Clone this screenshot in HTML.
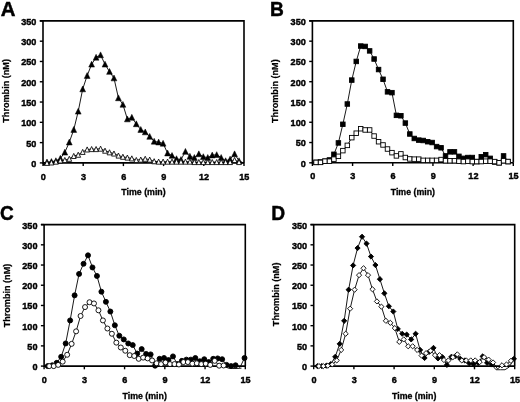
<!DOCTYPE html>
<html><head><meta charset="utf-8"><style>
html,body{margin:0;padding:0;background:#fff;}
svg{display:block;}
text{font-family:"Liberation Sans",sans-serif;font-weight:bold;font-size:9.1px;fill:#000;stroke:#000;stroke-width:0.4px;}
svg{will-change:transform;}
</style></head><body>
<svg width="520" height="402" viewBox="0 0 520 402">
<rect width="520" height="402" fill="#fff"/>
<path d="M39.80 20.90H244.00V162.90" fill="none" stroke="#000" stroke-width="1.6"/>
<path d="M43.00 20.90V162.90H244.00" fill="none" stroke="#000" stroke-width="1.6"/>
<path d="M39.80 162.90H43.00" stroke="#000" stroke-width="1.4"/>
<text transform="translate(36.40 166.80) scale(1 1.08)" text-anchor="end">0</text>
<path d="M39.80 142.61H43.00" stroke="#000" stroke-width="1.4"/>
<text transform="translate(36.40 146.51) scale(1 1.08)" text-anchor="end">50</text>
<path d="M39.80 122.33H43.00" stroke="#000" stroke-width="1.4"/>
<text transform="translate(36.40 126.23) scale(1 1.08)" text-anchor="end">100</text>
<path d="M39.80 102.04H43.00" stroke="#000" stroke-width="1.4"/>
<text transform="translate(36.40 105.94) scale(1 1.08)" text-anchor="end">150</text>
<path d="M39.80 81.76H43.00" stroke="#000" stroke-width="1.4"/>
<text transform="translate(36.40 85.66) scale(1 1.08)" text-anchor="end">200</text>
<path d="M39.80 61.47H43.00" stroke="#000" stroke-width="1.4"/>
<text transform="translate(36.40 65.37) scale(1 1.08)" text-anchor="end">250</text>
<path d="M39.80 41.19H43.00" stroke="#000" stroke-width="1.4"/>
<text transform="translate(36.40 45.09) scale(1 1.08)" text-anchor="end">300</text>
<path d="M39.80 20.90H43.00" stroke="#000" stroke-width="1.4"/>
<text transform="translate(36.40 24.80) scale(1 1.08)" text-anchor="end">350</text>
<path d="M43.00 162.90V166.10" stroke="#000" stroke-width="1.4"/>
<text transform="translate(43.30 179.50) scale(1 1.08)" text-anchor="middle">0</text>
<path d="M83.20 162.90V166.10" stroke="#000" stroke-width="1.4"/>
<text transform="translate(83.50 179.50) scale(1 1.08)" text-anchor="middle">3</text>
<path d="M123.40 162.90V166.10" stroke="#000" stroke-width="1.4"/>
<text transform="translate(123.70 179.50) scale(1 1.08)" text-anchor="middle">6</text>
<path d="M163.60 162.90V166.10" stroke="#000" stroke-width="1.4"/>
<text transform="translate(163.90 179.50) scale(1 1.08)" text-anchor="middle">9</text>
<path d="M203.80 162.90V166.10" stroke="#000" stroke-width="1.4"/>
<text transform="translate(204.10 179.50) scale(1 1.08)" text-anchor="middle">12</text>
<path d="M244.00 162.90V166.10" stroke="#000" stroke-width="1.4"/>
<text transform="translate(244.30 179.50) scale(1 1.08)" text-anchor="middle">15</text>
<text x="143.50" y="195.40" text-anchor="middle" style="font-size:8.8px;stroke-width:0.3px">Time (min)</text>
<text transform="translate(8.50 90.90) rotate(-90)" text-anchor="middle" style="stroke-width:0.25px">Thrombin (nM)</text>
<path d="M43 160.6L45.4 165.4H43Z" fill="#000"/>
<text transform="translate(0.70 15.60) scale(1.02 1.02)" style="font-size:20px;stroke-width:0.45px">A</text>
<path d="M46.97 162.09 L51.43 161.68 L55.90 160.87 L60.37 158.44 L64.83 152.35 L69.30 142.21 L73.77 129.63 L78.23 111.37 L82.70 89.06 L87.17 75.67 L91.63 64.31 L96.10 57.41 L100.57 54.98 L105.03 64.31 L109.50 71.61 L113.97 78.11 L118.43 97.99 L122.90 104.48 L127.37 119.08 L131.83 117.46 L136.30 123.95 L140.77 129.63 L145.23 132.07 L149.70 136.53 L154.17 141.40 L158.63 142.21 L163.10 143.43 L167.57 153.16 L172.03 155.60 L176.50 158.84 L180.97 159.65 L185.43 151.54 L189.90 156.41 L194.37 157.63 L198.83 153.97 L203.30 156.81 L207.77 157.63 L212.23 155.19 L216.70 154.79 L221.17 157.63 L225.63 160.87 L230.10 159.25 L234.57 153.97 L239.03 160.87 L243.50 162.90" fill="none" stroke="#000" stroke-width="0.9"/>
<path d="M46.97 158.99L49.87 164.84L44.07 164.84Z" fill="#000" stroke="#000" stroke-width="0.5"/>
<path d="M51.43 158.58L54.33 164.43L48.53 164.43Z" fill="#000" stroke="#000" stroke-width="0.5"/>
<path d="M55.90 157.77L58.80 163.62L53.00 163.62Z" fill="#000" stroke="#000" stroke-width="0.5"/>
<path d="M60.37 155.34L63.27 161.19L57.47 161.19Z" fill="#000" stroke="#000" stroke-width="0.5"/>
<path d="M64.83 149.25L67.73 155.10L61.93 155.10Z" fill="#000" stroke="#000" stroke-width="0.5"/>
<path d="M69.30 139.11L72.20 144.96L66.40 144.96Z" fill="#000" stroke="#000" stroke-width="0.5"/>
<path d="M73.77 126.53L76.67 132.38L70.87 132.38Z" fill="#000" stroke="#000" stroke-width="0.5"/>
<path d="M78.23 108.27L81.13 114.12L75.33 114.12Z" fill="#000" stroke="#000" stroke-width="0.5"/>
<path d="M82.70 85.96L85.60 91.81L79.80 91.81Z" fill="#000" stroke="#000" stroke-width="0.5"/>
<path d="M87.17 72.57L90.07 78.42L84.27 78.42Z" fill="#000" stroke="#000" stroke-width="0.5"/>
<path d="M91.63 61.21L94.53 67.06L88.73 67.06Z" fill="#000" stroke="#000" stroke-width="0.5"/>
<path d="M96.10 54.31L99.00 60.16L93.20 60.16Z" fill="#000" stroke="#000" stroke-width="0.5"/>
<path d="M100.57 51.88L103.47 57.73L97.67 57.73Z" fill="#000" stroke="#000" stroke-width="0.5"/>
<path d="M105.03 61.21L107.93 67.06L102.13 67.06Z" fill="#000" stroke="#000" stroke-width="0.5"/>
<path d="M109.50 68.51L112.40 74.36L106.60 74.36Z" fill="#000" stroke="#000" stroke-width="0.5"/>
<path d="M113.97 75.01L116.87 80.86L111.07 80.86Z" fill="#000" stroke="#000" stroke-width="0.5"/>
<path d="M118.43 94.89L121.33 100.74L115.53 100.74Z" fill="#000" stroke="#000" stroke-width="0.5"/>
<path d="M122.90 101.38L125.80 107.23L120.00 107.23Z" fill="#000" stroke="#000" stroke-width="0.5"/>
<path d="M127.37 115.98L130.27 121.83L124.47 121.83Z" fill="#000" stroke="#000" stroke-width="0.5"/>
<path d="M131.83 114.36L134.73 120.21L128.93 120.21Z" fill="#000" stroke="#000" stroke-width="0.5"/>
<path d="M136.30 120.85L139.20 126.70L133.40 126.70Z" fill="#000" stroke="#000" stroke-width="0.5"/>
<path d="M140.77 126.53L143.67 132.38L137.87 132.38Z" fill="#000" stroke="#000" stroke-width="0.5"/>
<path d="M145.23 128.97L148.13 134.82L142.33 134.82Z" fill="#000" stroke="#000" stroke-width="0.5"/>
<path d="M149.70 133.43L152.60 139.28L146.80 139.28Z" fill="#000" stroke="#000" stroke-width="0.5"/>
<path d="M154.17 138.30L157.07 144.15L151.27 144.15Z" fill="#000" stroke="#000" stroke-width="0.5"/>
<path d="M158.63 139.11L161.53 144.96L155.73 144.96Z" fill="#000" stroke="#000" stroke-width="0.5"/>
<path d="M163.10 140.33L166.00 146.18L160.20 146.18Z" fill="#000" stroke="#000" stroke-width="0.5"/>
<path d="M167.57 150.06L170.47 155.91L164.67 155.91Z" fill="#000" stroke="#000" stroke-width="0.5"/>
<path d="M172.03 152.50L174.93 158.35L169.13 158.35Z" fill="#000" stroke="#000" stroke-width="0.5"/>
<path d="M176.50 155.74L179.40 161.59L173.60 161.59Z" fill="#000" stroke="#000" stroke-width="0.5"/>
<path d="M180.97 156.55L183.87 162.40L178.07 162.40Z" fill="#000" stroke="#000" stroke-width="0.5"/>
<path d="M185.43 148.44L188.33 154.29L182.53 154.29Z" fill="#000" stroke="#000" stroke-width="0.5"/>
<path d="M189.90 153.31L192.80 159.16L187.00 159.16Z" fill="#000" stroke="#000" stroke-width="0.5"/>
<path d="M194.37 154.53L197.27 160.38L191.47 160.38Z" fill="#000" stroke="#000" stroke-width="0.5"/>
<path d="M198.83 150.87L201.73 156.72L195.93 156.72Z" fill="#000" stroke="#000" stroke-width="0.5"/>
<path d="M203.30 153.71L206.20 159.56L200.40 159.56Z" fill="#000" stroke="#000" stroke-width="0.5"/>
<path d="M207.77 154.53L210.67 160.38L204.87 160.38Z" fill="#000" stroke="#000" stroke-width="0.5"/>
<path d="M212.23 152.09L215.13 157.94L209.33 157.94Z" fill="#000" stroke="#000" stroke-width="0.5"/>
<path d="M216.70 151.69L219.60 157.54L213.80 157.54Z" fill="#000" stroke="#000" stroke-width="0.5"/>
<path d="M221.17 154.53L224.07 160.38L218.27 160.38Z" fill="#000" stroke="#000" stroke-width="0.5"/>
<path d="M225.63 157.77L228.53 163.62L222.73 163.62Z" fill="#000" stroke="#000" stroke-width="0.5"/>
<path d="M230.10 156.15L233.00 162.00L227.20 162.00Z" fill="#000" stroke="#000" stroke-width="0.5"/>
<path d="M234.57 150.87L237.47 156.72L231.67 156.72Z" fill="#000" stroke="#000" stroke-width="0.5"/>
<path d="M239.03 157.77L241.93 163.62L236.13 163.62Z" fill="#000" stroke="#000" stroke-width="0.5"/>
<path d="M46.97 162.90 L51.43 162.49 L55.90 161.68 L60.37 160.47 L64.83 160.06 L69.30 158.84 L73.77 156.00 L78.23 154.79 L82.70 151.95 L87.17 149.51 L91.63 149.11 L96.10 149.11 L100.57 148.70 L105.03 150.73 L109.50 152.35 L113.97 153.57 L118.43 155.60 L122.90 156.81 L127.37 157.63 L131.83 158.44 L136.30 160.06 L140.77 159.65 L145.23 158.84 L149.70 159.65 L154.17 161.28 L158.63 161.68 L163.10 161.68 L167.57 161.68 L172.03 161.68 L176.50 161.68 L180.97 161.68 L185.43 161.68 L189.90 161.68 L194.37 162.09 L198.83 162.09 L203.30 162.09 L207.77 162.09 L212.23 162.09 L216.70 162.09 L221.17 162.09 L225.63 162.09 L230.10 162.09 L234.57 160.06 L239.03 162.09 L243.50 162.90" fill="none" stroke="#000" stroke-width="0.9"/>
<path d="M46.97 160.30L49.37 165.40L44.57 165.40Z" fill="#fff" stroke="#000" stroke-width="0.85" stroke-linejoin="round"/>
<path d="M51.43 159.89L53.83 164.99L49.03 164.99Z" fill="#fff" stroke="#000" stroke-width="0.85" stroke-linejoin="round"/>
<path d="M55.90 159.08L58.30 164.18L53.50 164.18Z" fill="#fff" stroke="#000" stroke-width="0.85" stroke-linejoin="round"/>
<path d="M60.37 157.87L62.77 162.97L57.97 162.97Z" fill="#fff" stroke="#000" stroke-width="0.85" stroke-linejoin="round"/>
<path d="M64.83 157.46L67.23 162.56L62.43 162.56Z" fill="#fff" stroke="#000" stroke-width="0.85" stroke-linejoin="round"/>
<path d="M69.30 156.24L71.70 161.34L66.90 161.34Z" fill="#fff" stroke="#000" stroke-width="0.85" stroke-linejoin="round"/>
<path d="M73.77 153.40L76.17 158.50L71.37 158.50Z" fill="#fff" stroke="#000" stroke-width="0.85" stroke-linejoin="round"/>
<path d="M78.23 152.19L80.63 157.29L75.83 157.29Z" fill="#fff" stroke="#000" stroke-width="0.85" stroke-linejoin="round"/>
<path d="M82.70 149.35L85.10 154.45L80.30 154.45Z" fill="#fff" stroke="#000" stroke-width="0.85" stroke-linejoin="round"/>
<path d="M87.17 146.91L89.57 152.01L84.77 152.01Z" fill="#fff" stroke="#000" stroke-width="0.85" stroke-linejoin="round"/>
<path d="M91.63 146.51L94.03 151.61L89.23 151.61Z" fill="#fff" stroke="#000" stroke-width="0.85" stroke-linejoin="round"/>
<path d="M96.10 146.51L98.50 151.61L93.70 151.61Z" fill="#fff" stroke="#000" stroke-width="0.85" stroke-linejoin="round"/>
<path d="M100.57 146.10L102.97 151.20L98.17 151.20Z" fill="#fff" stroke="#000" stroke-width="0.85" stroke-linejoin="round"/>
<path d="M105.03 148.13L107.43 153.23L102.63 153.23Z" fill="#fff" stroke="#000" stroke-width="0.85" stroke-linejoin="round"/>
<path d="M109.50 149.75L111.90 154.85L107.10 154.85Z" fill="#fff" stroke="#000" stroke-width="0.85" stroke-linejoin="round"/>
<path d="M113.97 150.97L116.37 156.07L111.57 156.07Z" fill="#fff" stroke="#000" stroke-width="0.85" stroke-linejoin="round"/>
<path d="M118.43 153.00L120.83 158.10L116.03 158.10Z" fill="#fff" stroke="#000" stroke-width="0.85" stroke-linejoin="round"/>
<path d="M122.90 154.21L125.30 159.31L120.50 159.31Z" fill="#fff" stroke="#000" stroke-width="0.85" stroke-linejoin="round"/>
<path d="M127.37 155.03L129.77 160.13L124.97 160.13Z" fill="#fff" stroke="#000" stroke-width="0.85" stroke-linejoin="round"/>
<path d="M131.83 155.84L134.23 160.94L129.43 160.94Z" fill="#fff" stroke="#000" stroke-width="0.85" stroke-linejoin="round"/>
<path d="M136.30 157.46L138.70 162.56L133.90 162.56Z" fill="#fff" stroke="#000" stroke-width="0.85" stroke-linejoin="round"/>
<path d="M140.77 157.05L143.17 162.15L138.37 162.15Z" fill="#fff" stroke="#000" stroke-width="0.85" stroke-linejoin="round"/>
<path d="M145.23 156.24L147.63 161.34L142.83 161.34Z" fill="#fff" stroke="#000" stroke-width="0.85" stroke-linejoin="round"/>
<path d="M149.70 157.05L152.10 162.15L147.30 162.15Z" fill="#fff" stroke="#000" stroke-width="0.85" stroke-linejoin="round"/>
<path d="M154.17 158.68L156.57 163.78L151.77 163.78Z" fill="#fff" stroke="#000" stroke-width="0.85" stroke-linejoin="round"/>
<path d="M158.63 159.08L161.03 164.18L156.23 164.18Z" fill="#fff" stroke="#000" stroke-width="0.85" stroke-linejoin="round"/>
<path d="M163.10 159.08L165.50 164.18L160.70 164.18Z" fill="#fff" stroke="#000" stroke-width="0.85" stroke-linejoin="round"/>
<path d="M167.57 159.08L169.97 164.18L165.17 164.18Z" fill="#fff" stroke="#000" stroke-width="0.85" stroke-linejoin="round"/>
<path d="M172.03 159.08L174.43 164.18L169.63 164.18Z" fill="#fff" stroke="#000" stroke-width="0.85" stroke-linejoin="round"/>
<path d="M176.50 159.08L178.90 164.18L174.10 164.18Z" fill="#fff" stroke="#000" stroke-width="0.85" stroke-linejoin="round"/>
<path d="M180.97 159.08L183.37 164.18L178.57 164.18Z" fill="#fff" stroke="#000" stroke-width="0.85" stroke-linejoin="round"/>
<path d="M185.43 159.08L187.83 164.18L183.03 164.18Z" fill="#fff" stroke="#000" stroke-width="0.85" stroke-linejoin="round"/>
<path d="M189.90 159.08L192.30 164.18L187.50 164.18Z" fill="#fff" stroke="#000" stroke-width="0.85" stroke-linejoin="round"/>
<path d="M194.37 159.49L196.77 164.59L191.97 164.59Z" fill="#fff" stroke="#000" stroke-width="0.85" stroke-linejoin="round"/>
<path d="M198.83 159.49L201.23 164.59L196.43 164.59Z" fill="#fff" stroke="#000" stroke-width="0.85" stroke-linejoin="round"/>
<path d="M203.30 159.49L205.70 164.59L200.90 164.59Z" fill="#fff" stroke="#000" stroke-width="0.85" stroke-linejoin="round"/>
<path d="M207.77 159.49L210.17 164.59L205.37 164.59Z" fill="#fff" stroke="#000" stroke-width="0.85" stroke-linejoin="round"/>
<path d="M212.23 159.49L214.63 164.59L209.83 164.59Z" fill="#fff" stroke="#000" stroke-width="0.85" stroke-linejoin="round"/>
<path d="M216.70 159.49L219.10 164.59L214.30 164.59Z" fill="#fff" stroke="#000" stroke-width="0.85" stroke-linejoin="round"/>
<path d="M221.17 159.49L223.57 164.59L218.77 164.59Z" fill="#fff" stroke="#000" stroke-width="0.85" stroke-linejoin="round"/>
<path d="M225.63 159.49L228.03 164.59L223.23 164.59Z" fill="#fff" stroke="#000" stroke-width="0.85" stroke-linejoin="round"/>
<path d="M230.10 159.49L232.50 164.59L227.70 164.59Z" fill="#fff" stroke="#000" stroke-width="0.85" stroke-linejoin="round"/>
<path d="M234.57 157.46L236.97 162.56L232.17 162.56Z" fill="#fff" stroke="#000" stroke-width="0.85" stroke-linejoin="round"/>
<path d="M239.03 159.49L241.43 164.59L236.63 164.59Z" fill="#fff" stroke="#000" stroke-width="0.85" stroke-linejoin="round"/>
<path d="M309.20 20.90H513.30V162.80" fill="none" stroke="#000" stroke-width="1.6"/>
<path d="M312.40 20.90V162.80H513.30" fill="none" stroke="#000" stroke-width="1.6"/>
<path d="M309.20 162.80H312.40" stroke="#000" stroke-width="1.4"/>
<text transform="translate(305.80 166.70) scale(1 1.08)" text-anchor="end">0</text>
<path d="M309.20 142.53H312.40" stroke="#000" stroke-width="1.4"/>
<text transform="translate(305.80 146.43) scale(1 1.08)" text-anchor="end">50</text>
<path d="M309.20 122.26H312.40" stroke="#000" stroke-width="1.4"/>
<text transform="translate(305.80 126.16) scale(1 1.08)" text-anchor="end">100</text>
<path d="M309.20 101.99H312.40" stroke="#000" stroke-width="1.4"/>
<text transform="translate(305.80 105.89) scale(1 1.08)" text-anchor="end">150</text>
<path d="M309.20 81.71H312.40" stroke="#000" stroke-width="1.4"/>
<text transform="translate(305.80 85.61) scale(1 1.08)" text-anchor="end">200</text>
<path d="M309.20 61.44H312.40" stroke="#000" stroke-width="1.4"/>
<text transform="translate(305.80 65.34) scale(1 1.08)" text-anchor="end">250</text>
<path d="M309.20 41.17H312.40" stroke="#000" stroke-width="1.4"/>
<text transform="translate(305.80 45.07) scale(1 1.08)" text-anchor="end">300</text>
<path d="M309.20 20.90H312.40" stroke="#000" stroke-width="1.4"/>
<text transform="translate(305.80 24.80) scale(1 1.08)" text-anchor="end">350</text>
<path d="M312.40 162.80V166.00" stroke="#000" stroke-width="1.4"/>
<text transform="translate(312.70 179.40) scale(1 1.08)" text-anchor="middle">0</text>
<path d="M352.58 162.80V166.00" stroke="#000" stroke-width="1.4"/>
<text transform="translate(352.88 179.40) scale(1 1.08)" text-anchor="middle">3</text>
<path d="M392.76 162.80V166.00" stroke="#000" stroke-width="1.4"/>
<text transform="translate(393.06 179.40) scale(1 1.08)" text-anchor="middle">6</text>
<path d="M432.94 162.80V166.00" stroke="#000" stroke-width="1.4"/>
<text transform="translate(433.24 179.40) scale(1 1.08)" text-anchor="middle">9</text>
<path d="M473.12 162.80V166.00" stroke="#000" stroke-width="1.4"/>
<text transform="translate(473.42 179.40) scale(1 1.08)" text-anchor="middle">12</text>
<path d="M513.30 162.80V166.00" stroke="#000" stroke-width="1.4"/>
<text transform="translate(513.60 179.40) scale(1 1.08)" text-anchor="middle">15</text>
<text x="412.85" y="195.30" text-anchor="middle" style="font-size:8.8px;stroke-width:0.3px">Time (min)</text>
<text transform="translate(277.90 91.15) rotate(-90)" text-anchor="middle" style="stroke-width:0.25px">Thrombin (nM)</text>
<text transform="translate(270.10 15.80) scale(0.96 1.04)" style="font-size:20px;stroke-width:0.45px">B</text>
<path d="M316.06 162.39 L320.53 161.99 L324.99 161.18 L329.46 159.96 L333.92 154.29 L338.39 142.93 L342.85 124.28 L347.32 104.01 L351.78 80.09 L356.24 61.44 L360.71 46.04 L365.17 46.44 L369.64 50.90 L374.10 59.01 L378.57 69.55 L383.03 79.28 L387.50 91.85 L391.96 92.66 L396.42 115.36 L400.89 115.77 L405.35 123.07 L409.82 134.01 L414.28 138.47 L418.75 140.10 L423.21 140.50 L427.68 141.72 L432.14 142.53 L436.60 146.58 L441.07 147.80 L445.53 155.91 L450.00 151.85 L454.46 151.85 L458.93 156.31 L463.39 158.34 L467.86 157.53 L472.32 157.53 L476.78 161.58 L481.25 156.72 L485.71 154.69 L490.18 158.34 L494.64 161.99 L499.11 162.80 L503.57 155.91 L508.04 161.58 L512.50 162.80" fill="none" stroke="#000" stroke-width="0.9"/>
<rect x="313.81" y="160.14" width="4.50" height="4.50" fill="#000" stroke="#000" stroke-width="0.9"/>
<rect x="318.28" y="159.74" width="4.50" height="4.50" fill="#000" stroke="#000" stroke-width="0.9"/>
<rect x="322.74" y="158.93" width="4.50" height="4.50" fill="#000" stroke="#000" stroke-width="0.9"/>
<rect x="327.21" y="157.71" width="4.50" height="4.50" fill="#000" stroke="#000" stroke-width="0.9"/>
<rect x="331.67" y="152.04" width="4.50" height="4.50" fill="#000" stroke="#000" stroke-width="0.9"/>
<rect x="336.14" y="140.68" width="4.50" height="4.50" fill="#000" stroke="#000" stroke-width="0.9"/>
<rect x="340.60" y="122.03" width="4.50" height="4.50" fill="#000" stroke="#000" stroke-width="0.9"/>
<rect x="345.07" y="101.76" width="4.50" height="4.50" fill="#000" stroke="#000" stroke-width="0.9"/>
<rect x="349.53" y="77.84" width="4.50" height="4.50" fill="#000" stroke="#000" stroke-width="0.9"/>
<rect x="353.99" y="59.19" width="4.50" height="4.50" fill="#000" stroke="#000" stroke-width="0.9"/>
<rect x="358.46" y="43.79" width="4.50" height="4.50" fill="#000" stroke="#000" stroke-width="0.9"/>
<rect x="362.92" y="44.19" width="4.50" height="4.50" fill="#000" stroke="#000" stroke-width="0.9"/>
<rect x="367.39" y="48.65" width="4.50" height="4.50" fill="#000" stroke="#000" stroke-width="0.9"/>
<rect x="371.85" y="56.76" width="4.50" height="4.50" fill="#000" stroke="#000" stroke-width="0.9"/>
<rect x="376.32" y="67.30" width="4.50" height="4.50" fill="#000" stroke="#000" stroke-width="0.9"/>
<rect x="380.78" y="77.03" width="4.50" height="4.50" fill="#000" stroke="#000" stroke-width="0.9"/>
<rect x="385.25" y="89.60" width="4.50" height="4.50" fill="#000" stroke="#000" stroke-width="0.9"/>
<rect x="389.71" y="90.41" width="4.50" height="4.50" fill="#000" stroke="#000" stroke-width="0.9"/>
<rect x="394.17" y="113.11" width="4.50" height="4.50" fill="#000" stroke="#000" stroke-width="0.9"/>
<rect x="398.64" y="113.52" width="4.50" height="4.50" fill="#000" stroke="#000" stroke-width="0.9"/>
<rect x="403.10" y="120.82" width="4.50" height="4.50" fill="#000" stroke="#000" stroke-width="0.9"/>
<rect x="407.57" y="131.76" width="4.50" height="4.50" fill="#000" stroke="#000" stroke-width="0.9"/>
<rect x="412.03" y="136.22" width="4.50" height="4.50" fill="#000" stroke="#000" stroke-width="0.9"/>
<rect x="416.50" y="137.85" width="4.50" height="4.50" fill="#000" stroke="#000" stroke-width="0.9"/>
<rect x="420.96" y="138.25" width="4.50" height="4.50" fill="#000" stroke="#000" stroke-width="0.9"/>
<rect x="425.43" y="139.47" width="4.50" height="4.50" fill="#000" stroke="#000" stroke-width="0.9"/>
<rect x="429.89" y="140.28" width="4.50" height="4.50" fill="#000" stroke="#000" stroke-width="0.9"/>
<rect x="434.35" y="144.33" width="4.50" height="4.50" fill="#000" stroke="#000" stroke-width="0.9"/>
<rect x="438.82" y="145.55" width="4.50" height="4.50" fill="#000" stroke="#000" stroke-width="0.9"/>
<rect x="443.28" y="153.66" width="4.50" height="4.50" fill="#000" stroke="#000" stroke-width="0.9"/>
<rect x="447.75" y="149.60" width="4.50" height="4.50" fill="#000" stroke="#000" stroke-width="0.9"/>
<rect x="452.21" y="149.60" width="4.50" height="4.50" fill="#000" stroke="#000" stroke-width="0.9"/>
<rect x="456.68" y="154.06" width="4.50" height="4.50" fill="#000" stroke="#000" stroke-width="0.9"/>
<rect x="461.14" y="156.09" width="4.50" height="4.50" fill="#000" stroke="#000" stroke-width="0.9"/>
<rect x="465.61" y="155.28" width="4.50" height="4.50" fill="#000" stroke="#000" stroke-width="0.9"/>
<rect x="470.07" y="155.28" width="4.50" height="4.50" fill="#000" stroke="#000" stroke-width="0.9"/>
<rect x="474.53" y="159.33" width="4.50" height="4.50" fill="#000" stroke="#000" stroke-width="0.9"/>
<rect x="479.00" y="154.47" width="4.50" height="4.50" fill="#000" stroke="#000" stroke-width="0.9"/>
<rect x="483.46" y="152.44" width="4.50" height="4.50" fill="#000" stroke="#000" stroke-width="0.9"/>
<rect x="487.93" y="156.09" width="4.50" height="4.50" fill="#000" stroke="#000" stroke-width="0.9"/>
<rect x="492.39" y="159.74" width="4.50" height="4.50" fill="#000" stroke="#000" stroke-width="0.9"/>
<rect x="496.86" y="160.55" width="4.50" height="4.50" fill="#000" stroke="#000" stroke-width="0.9"/>
<rect x="501.32" y="153.66" width="4.50" height="4.50" fill="#000" stroke="#000" stroke-width="0.9"/>
<rect x="505.79" y="159.33" width="4.50" height="4.50" fill="#000" stroke="#000" stroke-width="0.9"/>
<path d="M316.06 162.39 L320.53 162.39 L324.99 161.18 L329.46 161.18 L333.92 159.15 L338.39 156.31 L342.85 150.64 L347.32 145.37 L351.78 137.66 L356.24 133.20 L360.71 128.74 L365.17 129.96 L369.64 129.96 L374.10 136.04 L378.57 141.72 L383.03 144.96 L387.50 149.02 L391.96 152.66 L396.42 155.91 L400.89 153.88 L405.35 157.53 L409.82 158.95 L414.28 159.15 L418.75 159.15 L423.21 160.37 L427.68 160.37 L432.14 160.37 L436.60 160.37 L441.07 159.56 L445.53 160.77 L450.00 160.77 L454.46 160.77 L458.93 161.18 L463.39 161.58 L467.86 161.18 L472.32 161.58 L476.78 161.58 L481.25 161.58 L485.71 161.18 L490.18 161.18 L494.64 161.58 L499.11 162.80 L503.57 160.77 L508.04 161.58 L512.50 162.80" fill="none" stroke="#000" stroke-width="0.9"/>
<rect x="313.81" y="160.14" width="4.50" height="4.50" fill="#fff" stroke="#000" stroke-width="0.9"/>
<rect x="318.28" y="160.14" width="4.50" height="4.50" fill="#fff" stroke="#000" stroke-width="0.9"/>
<rect x="322.74" y="158.93" width="4.50" height="4.50" fill="#fff" stroke="#000" stroke-width="0.9"/>
<rect x="327.21" y="158.93" width="4.50" height="4.50" fill="#fff" stroke="#000" stroke-width="0.9"/>
<rect x="331.67" y="156.90" width="4.50" height="4.50" fill="#fff" stroke="#000" stroke-width="0.9"/>
<rect x="336.14" y="154.06" width="4.50" height="4.50" fill="#fff" stroke="#000" stroke-width="0.9"/>
<rect x="340.60" y="148.39" width="4.50" height="4.50" fill="#fff" stroke="#000" stroke-width="0.9"/>
<rect x="345.07" y="143.12" width="4.50" height="4.50" fill="#fff" stroke="#000" stroke-width="0.9"/>
<rect x="349.53" y="135.41" width="4.50" height="4.50" fill="#fff" stroke="#000" stroke-width="0.9"/>
<rect x="353.99" y="130.95" width="4.50" height="4.50" fill="#fff" stroke="#000" stroke-width="0.9"/>
<rect x="358.46" y="126.49" width="4.50" height="4.50" fill="#fff" stroke="#000" stroke-width="0.9"/>
<rect x="362.92" y="127.71" width="4.50" height="4.50" fill="#fff" stroke="#000" stroke-width="0.9"/>
<rect x="367.39" y="127.71" width="4.50" height="4.50" fill="#fff" stroke="#000" stroke-width="0.9"/>
<rect x="371.85" y="133.79" width="4.50" height="4.50" fill="#fff" stroke="#000" stroke-width="0.9"/>
<rect x="376.32" y="139.47" width="4.50" height="4.50" fill="#fff" stroke="#000" stroke-width="0.9"/>
<rect x="380.78" y="142.71" width="4.50" height="4.50" fill="#fff" stroke="#000" stroke-width="0.9"/>
<rect x="385.25" y="146.77" width="4.50" height="4.50" fill="#fff" stroke="#000" stroke-width="0.9"/>
<rect x="389.71" y="150.41" width="4.50" height="4.50" fill="#fff" stroke="#000" stroke-width="0.9"/>
<rect x="394.17" y="153.66" width="4.50" height="4.50" fill="#fff" stroke="#000" stroke-width="0.9"/>
<rect x="398.64" y="151.63" width="4.50" height="4.50" fill="#fff" stroke="#000" stroke-width="0.9"/>
<rect x="403.10" y="155.28" width="4.50" height="4.50" fill="#fff" stroke="#000" stroke-width="0.9"/>
<rect x="407.57" y="156.70" width="4.50" height="4.50" fill="#fff" stroke="#000" stroke-width="0.9"/>
<rect x="412.03" y="156.90" width="4.50" height="4.50" fill="#fff" stroke="#000" stroke-width="0.9"/>
<rect x="416.50" y="156.90" width="4.50" height="4.50" fill="#fff" stroke="#000" stroke-width="0.9"/>
<rect x="420.96" y="158.12" width="4.50" height="4.50" fill="#fff" stroke="#000" stroke-width="0.9"/>
<rect x="425.43" y="158.12" width="4.50" height="4.50" fill="#fff" stroke="#000" stroke-width="0.9"/>
<rect x="429.89" y="158.12" width="4.50" height="4.50" fill="#fff" stroke="#000" stroke-width="0.9"/>
<rect x="434.35" y="158.12" width="4.50" height="4.50" fill="#fff" stroke="#000" stroke-width="0.9"/>
<rect x="438.82" y="157.31" width="4.50" height="4.50" fill="#fff" stroke="#000" stroke-width="0.9"/>
<rect x="443.28" y="158.52" width="4.50" height="4.50" fill="#fff" stroke="#000" stroke-width="0.9"/>
<rect x="447.75" y="158.52" width="4.50" height="4.50" fill="#fff" stroke="#000" stroke-width="0.9"/>
<rect x="452.21" y="158.52" width="4.50" height="4.50" fill="#fff" stroke="#000" stroke-width="0.9"/>
<rect x="456.68" y="158.93" width="4.50" height="4.50" fill="#fff" stroke="#000" stroke-width="0.9"/>
<rect x="461.14" y="159.33" width="4.50" height="4.50" fill="#fff" stroke="#000" stroke-width="0.9"/>
<rect x="465.61" y="158.93" width="4.50" height="4.50" fill="#fff" stroke="#000" stroke-width="0.9"/>
<rect x="470.07" y="159.33" width="4.50" height="4.50" fill="#fff" stroke="#000" stroke-width="0.9"/>
<rect x="474.53" y="159.33" width="4.50" height="4.50" fill="#fff" stroke="#000" stroke-width="0.9"/>
<rect x="479.00" y="159.33" width="4.50" height="4.50" fill="#fff" stroke="#000" stroke-width="0.9"/>
<rect x="483.46" y="158.93" width="4.50" height="4.50" fill="#fff" stroke="#000" stroke-width="0.9"/>
<rect x="487.93" y="158.93" width="4.50" height="4.50" fill="#fff" stroke="#000" stroke-width="0.9"/>
<rect x="492.39" y="159.33" width="4.50" height="4.50" fill="#fff" stroke="#000" stroke-width="0.9"/>
<rect x="496.86" y="160.55" width="4.50" height="4.50" fill="#fff" stroke="#000" stroke-width="0.9"/>
<rect x="501.32" y="158.52" width="4.50" height="4.50" fill="#fff" stroke="#000" stroke-width="0.9"/>
<rect x="505.79" y="159.33" width="4.50" height="4.50" fill="#fff" stroke="#000" stroke-width="0.9"/>
<path d="M40.90 224.60H245.30V366.10" fill="none" stroke="#000" stroke-width="1.6"/>
<path d="M44.10 224.60V366.10H245.30" fill="none" stroke="#000" stroke-width="1.6"/>
<path d="M40.90 366.10H44.10" stroke="#000" stroke-width="1.4"/>
<text transform="translate(37.50 370.00) scale(1 1.08)" text-anchor="end">0</text>
<path d="M40.90 345.89H44.10" stroke="#000" stroke-width="1.4"/>
<text transform="translate(37.50 349.79) scale(1 1.08)" text-anchor="end">50</text>
<path d="M40.90 325.67H44.10" stroke="#000" stroke-width="1.4"/>
<text transform="translate(37.50 329.57) scale(1 1.08)" text-anchor="end">100</text>
<path d="M40.90 305.46H44.10" stroke="#000" stroke-width="1.4"/>
<text transform="translate(37.50 309.36) scale(1 1.08)" text-anchor="end">150</text>
<path d="M40.90 285.24H44.10" stroke="#000" stroke-width="1.4"/>
<text transform="translate(37.50 289.14) scale(1 1.08)" text-anchor="end">200</text>
<path d="M40.90 265.03H44.10" stroke="#000" stroke-width="1.4"/>
<text transform="translate(37.50 268.93) scale(1 1.08)" text-anchor="end">250</text>
<path d="M40.90 244.81H44.10" stroke="#000" stroke-width="1.4"/>
<text transform="translate(37.50 248.71) scale(1 1.08)" text-anchor="end">300</text>
<path d="M40.90 224.60H44.10" stroke="#000" stroke-width="1.4"/>
<text transform="translate(37.50 228.50) scale(1 1.08)" text-anchor="end">350</text>
<path d="M44.10 366.10V369.30" stroke="#000" stroke-width="1.4"/>
<text transform="translate(44.40 382.70) scale(1 1.08)" text-anchor="middle">0</text>
<path d="M84.34 366.10V369.30" stroke="#000" stroke-width="1.4"/>
<text transform="translate(84.64 382.70) scale(1 1.08)" text-anchor="middle">3</text>
<path d="M124.58 366.10V369.30" stroke="#000" stroke-width="1.4"/>
<text transform="translate(124.88 382.70) scale(1 1.08)" text-anchor="middle">6</text>
<path d="M164.82 366.10V369.30" stroke="#000" stroke-width="1.4"/>
<text transform="translate(165.12 382.70) scale(1 1.08)" text-anchor="middle">9</text>
<path d="M205.06 366.10V369.30" stroke="#000" stroke-width="1.4"/>
<text transform="translate(205.36 382.70) scale(1 1.08)" text-anchor="middle">12</text>
<path d="M245.30 366.10V369.30" stroke="#000" stroke-width="1.4"/>
<text transform="translate(245.60 382.70) scale(1 1.08)" text-anchor="middle">15</text>
<text x="144.70" y="398.60" text-anchor="middle" style="font-size:8.8px;stroke-width:0.3px">Time (min)</text>
<text transform="translate(9.60 295.55) rotate(-90)" text-anchor="middle" style="stroke-width:0.25px">Thrombin (nM)</text>
<text transform="translate(0.10 219.90) scale(0.95 1.05)" style="font-size:20px;stroke-width:0.45px">C</text>
<path d="M47.77 366.10 L52.24 365.29 L56.71 362.87 L61.18 356.80 L65.66 343.46 L70.13 320.42 L74.60 295.35 L79.07 273.92 L83.54 263.82 L88.01 255.33 L92.48 267.45 L96.95 275.94 L101.42 291.71 L105.90 301.82 L110.37 311.52 L114.84 325.27 L119.31 335.78 L123.78 339.42 L128.25 343.46 L132.72 345.08 L137.19 353.57 L141.66 349.12 L146.14 353.97 L150.61 354.38 L155.08 365.70 L159.55 358.82 L164.02 358.01 L168.49 360.04 L172.96 356.40 L177.43 364.08 L181.90 360.84 L186.38 359.63 L190.85 359.63 L195.32 358.01 L199.79 361.25 L204.26 359.23 L208.73 362.06 L213.20 358.82 L217.67 358.42 L222.14 359.23 L226.62 364.89 L231.09 366.10 L235.56 365.29 L240.03 367.31 L244.50 358.01" fill="none" stroke="#000" stroke-width="0.9"/>
<circle cx="47.77" cy="366.10" r="2.5" fill="#000" stroke="#000" stroke-width="0.9"/>
<circle cx="52.24" cy="365.29" r="2.5" fill="#000" stroke="#000" stroke-width="0.9"/>
<circle cx="56.71" cy="362.87" r="2.5" fill="#000" stroke="#000" stroke-width="0.9"/>
<circle cx="61.18" cy="356.80" r="2.5" fill="#000" stroke="#000" stroke-width="0.9"/>
<circle cx="65.66" cy="343.46" r="2.5" fill="#000" stroke="#000" stroke-width="0.9"/>
<circle cx="70.13" cy="320.42" r="2.5" fill="#000" stroke="#000" stroke-width="0.9"/>
<circle cx="74.60" cy="295.35" r="2.5" fill="#000" stroke="#000" stroke-width="0.9"/>
<circle cx="79.07" cy="273.92" r="2.5" fill="#000" stroke="#000" stroke-width="0.9"/>
<circle cx="83.54" cy="263.82" r="2.5" fill="#000" stroke="#000" stroke-width="0.9"/>
<circle cx="88.01" cy="255.33" r="2.5" fill="#000" stroke="#000" stroke-width="0.9"/>
<circle cx="92.48" cy="267.45" r="2.5" fill="#000" stroke="#000" stroke-width="0.9"/>
<circle cx="96.95" cy="275.94" r="2.5" fill="#000" stroke="#000" stroke-width="0.9"/>
<circle cx="101.42" cy="291.71" r="2.5" fill="#000" stroke="#000" stroke-width="0.9"/>
<circle cx="105.90" cy="301.82" r="2.5" fill="#000" stroke="#000" stroke-width="0.9"/>
<circle cx="110.37" cy="311.52" r="2.5" fill="#000" stroke="#000" stroke-width="0.9"/>
<circle cx="114.84" cy="325.27" r="2.5" fill="#000" stroke="#000" stroke-width="0.9"/>
<circle cx="119.31" cy="335.78" r="2.5" fill="#000" stroke="#000" stroke-width="0.9"/>
<circle cx="123.78" cy="339.42" r="2.5" fill="#000" stroke="#000" stroke-width="0.9"/>
<circle cx="128.25" cy="343.46" r="2.5" fill="#000" stroke="#000" stroke-width="0.9"/>
<circle cx="132.72" cy="345.08" r="2.5" fill="#000" stroke="#000" stroke-width="0.9"/>
<circle cx="137.19" cy="353.57" r="2.5" fill="#000" stroke="#000" stroke-width="0.9"/>
<circle cx="141.66" cy="349.12" r="2.5" fill="#000" stroke="#000" stroke-width="0.9"/>
<circle cx="146.14" cy="353.97" r="2.5" fill="#000" stroke="#000" stroke-width="0.9"/>
<circle cx="150.61" cy="354.38" r="2.5" fill="#000" stroke="#000" stroke-width="0.9"/>
<circle cx="155.08" cy="365.70" r="2.5" fill="#000" stroke="#000" stroke-width="0.9"/>
<circle cx="159.55" cy="358.82" r="2.5" fill="#000" stroke="#000" stroke-width="0.9"/>
<circle cx="164.02" cy="358.01" r="2.5" fill="#000" stroke="#000" stroke-width="0.9"/>
<circle cx="168.49" cy="360.04" r="2.5" fill="#000" stroke="#000" stroke-width="0.9"/>
<circle cx="172.96" cy="356.40" r="2.5" fill="#000" stroke="#000" stroke-width="0.9"/>
<circle cx="177.43" cy="364.08" r="2.5" fill="#000" stroke="#000" stroke-width="0.9"/>
<circle cx="181.90" cy="360.84" r="2.5" fill="#000" stroke="#000" stroke-width="0.9"/>
<circle cx="186.38" cy="359.63" r="2.5" fill="#000" stroke="#000" stroke-width="0.9"/>
<circle cx="190.85" cy="359.63" r="2.5" fill="#000" stroke="#000" stroke-width="0.9"/>
<circle cx="195.32" cy="358.01" r="2.5" fill="#000" stroke="#000" stroke-width="0.9"/>
<circle cx="199.79" cy="361.25" r="2.5" fill="#000" stroke="#000" stroke-width="0.9"/>
<circle cx="204.26" cy="359.23" r="2.5" fill="#000" stroke="#000" stroke-width="0.9"/>
<circle cx="208.73" cy="362.06" r="2.5" fill="#000" stroke="#000" stroke-width="0.9"/>
<circle cx="213.20" cy="358.82" r="2.5" fill="#000" stroke="#000" stroke-width="0.9"/>
<circle cx="217.67" cy="358.42" r="2.5" fill="#000" stroke="#000" stroke-width="0.9"/>
<circle cx="222.14" cy="359.23" r="2.5" fill="#000" stroke="#000" stroke-width="0.9"/>
<circle cx="226.62" cy="364.89" r="2.5" fill="#000" stroke="#000" stroke-width="0.9"/>
<circle cx="231.09" cy="366.10" r="2.5" fill="#000" stroke="#000" stroke-width="0.9"/>
<circle cx="235.56" cy="365.29" r="2.5" fill="#000" stroke="#000" stroke-width="0.9"/>
<circle cx="244.50" cy="358.01" r="2.5" fill="#000" stroke="#000" stroke-width="0.9"/>
<path d="M49.27 366.10 L53.74 366.10 L58.21 364.89 L62.68 361.65 L67.16 354.78 L71.63 343.86 L76.10 331.33 L80.57 315.97 L85.04 307.07 L89.51 302.22 L93.98 303.44 L98.45 310.31 L102.92 320.42 L107.40 328.50 L111.87 333.76 L116.34 342.65 L120.81 347.50 L125.28 350.74 L129.75 355.18 L134.22 355.99 L138.69 358.82 L143.16 357.61 L147.64 358.42 L152.11 360.44 L156.58 363.27 L161.05 364.08 L165.52 362.46 L169.99 364.08 L174.46 364.08 L178.93 364.48 L183.40 362.06 L187.88 362.06 L192.35 363.67 L196.82 363.27 L201.29 364.08 L205.76 363.67 L210.23 364.89 L214.70 360.84 L219.17 365.70 L223.64 365.49 L228.12 368.12 L232.59 368.53 L237.06 368.53 L241.53 368.12" fill="none" stroke="#000" stroke-width="0.9"/>
<circle cx="49.27" cy="366.10" r="2.5" fill="#fff" stroke="#000" stroke-width="0.9"/>
<circle cx="53.74" cy="366.10" r="2.5" fill="#fff" stroke="#000" stroke-width="0.9"/>
<circle cx="58.21" cy="364.89" r="2.5" fill="#fff" stroke="#000" stroke-width="0.9"/>
<circle cx="62.68" cy="361.65" r="2.5" fill="#fff" stroke="#000" stroke-width="0.9"/>
<circle cx="67.16" cy="354.78" r="2.5" fill="#fff" stroke="#000" stroke-width="0.9"/>
<circle cx="71.63" cy="343.86" r="2.5" fill="#fff" stroke="#000" stroke-width="0.9"/>
<circle cx="76.10" cy="331.33" r="2.5" fill="#fff" stroke="#000" stroke-width="0.9"/>
<circle cx="80.57" cy="315.97" r="2.5" fill="#fff" stroke="#000" stroke-width="0.9"/>
<circle cx="85.04" cy="307.07" r="2.5" fill="#fff" stroke="#000" stroke-width="0.9"/>
<circle cx="89.51" cy="302.22" r="2.5" fill="#fff" stroke="#000" stroke-width="0.9"/>
<circle cx="93.98" cy="303.44" r="2.5" fill="#fff" stroke="#000" stroke-width="0.9"/>
<circle cx="98.45" cy="310.31" r="2.5" fill="#fff" stroke="#000" stroke-width="0.9"/>
<circle cx="102.92" cy="320.42" r="2.5" fill="#fff" stroke="#000" stroke-width="0.9"/>
<circle cx="107.40" cy="328.50" r="2.5" fill="#fff" stroke="#000" stroke-width="0.9"/>
<circle cx="111.87" cy="333.76" r="2.5" fill="#fff" stroke="#000" stroke-width="0.9"/>
<circle cx="116.34" cy="342.65" r="2.5" fill="#fff" stroke="#000" stroke-width="0.9"/>
<circle cx="120.81" cy="347.50" r="2.5" fill="#fff" stroke="#000" stroke-width="0.9"/>
<circle cx="125.28" cy="350.74" r="2.5" fill="#fff" stroke="#000" stroke-width="0.9"/>
<circle cx="129.75" cy="355.18" r="2.5" fill="#fff" stroke="#000" stroke-width="0.9"/>
<circle cx="134.22" cy="355.99" r="2.5" fill="#fff" stroke="#000" stroke-width="0.9"/>
<circle cx="138.69" cy="358.82" r="2.5" fill="#fff" stroke="#000" stroke-width="0.9"/>
<circle cx="143.16" cy="357.61" r="2.5" fill="#fff" stroke="#000" stroke-width="0.9"/>
<circle cx="147.64" cy="358.42" r="2.5" fill="#fff" stroke="#000" stroke-width="0.9"/>
<circle cx="152.11" cy="360.44" r="2.5" fill="#fff" stroke="#000" stroke-width="0.9"/>
<circle cx="156.58" cy="363.27" r="2.5" fill="#fff" stroke="#000" stroke-width="0.9"/>
<circle cx="161.05" cy="364.08" r="2.5" fill="#fff" stroke="#000" stroke-width="0.9"/>
<circle cx="165.52" cy="362.46" r="2.5" fill="#fff" stroke="#000" stroke-width="0.9"/>
<circle cx="169.99" cy="364.08" r="2.5" fill="#fff" stroke="#000" stroke-width="0.9"/>
<circle cx="174.46" cy="364.08" r="2.5" fill="#fff" stroke="#000" stroke-width="0.9"/>
<circle cx="178.93" cy="364.48" r="2.5" fill="#fff" stroke="#000" stroke-width="0.9"/>
<circle cx="183.40" cy="362.06" r="2.5" fill="#fff" stroke="#000" stroke-width="0.9"/>
<circle cx="187.88" cy="362.06" r="2.5" fill="#fff" stroke="#000" stroke-width="0.9"/>
<circle cx="192.35" cy="363.67" r="2.5" fill="#fff" stroke="#000" stroke-width="0.9"/>
<circle cx="196.82" cy="363.27" r="2.5" fill="#fff" stroke="#000" stroke-width="0.9"/>
<circle cx="201.29" cy="364.08" r="2.5" fill="#fff" stroke="#000" stroke-width="0.9"/>
<circle cx="205.76" cy="363.67" r="2.5" fill="#fff" stroke="#000" stroke-width="0.9"/>
<circle cx="210.23" cy="364.89" r="2.5" fill="#fff" stroke="#000" stroke-width="0.9"/>
<circle cx="214.70" cy="360.84" r="2.5" fill="#fff" stroke="#000" stroke-width="0.9"/>
<circle cx="219.17" cy="365.70" r="2.5" fill="#fff" stroke="#000" stroke-width="0.9"/>
<circle cx="223.64" cy="365.49" r="2.5" fill="#fff" stroke="#000" stroke-width="0.9"/>
<path d="M310.50 224.60H514.70V366.10" fill="none" stroke="#000" stroke-width="1.6"/>
<path d="M313.70 224.60V366.10H514.70" fill="none" stroke="#000" stroke-width="1.6"/>
<path d="M310.50 366.10H313.70" stroke="#000" stroke-width="1.4"/>
<text transform="translate(307.10 370.00) scale(1 1.08)" text-anchor="end">0</text>
<path d="M310.50 345.89H313.70" stroke="#000" stroke-width="1.4"/>
<text transform="translate(307.10 349.79) scale(1 1.08)" text-anchor="end">50</text>
<path d="M310.50 325.67H313.70" stroke="#000" stroke-width="1.4"/>
<text transform="translate(307.10 329.57) scale(1 1.08)" text-anchor="end">100</text>
<path d="M310.50 305.46H313.70" stroke="#000" stroke-width="1.4"/>
<text transform="translate(307.10 309.36) scale(1 1.08)" text-anchor="end">150</text>
<path d="M310.50 285.24H313.70" stroke="#000" stroke-width="1.4"/>
<text transform="translate(307.10 289.14) scale(1 1.08)" text-anchor="end">200</text>
<path d="M310.50 265.03H313.70" stroke="#000" stroke-width="1.4"/>
<text transform="translate(307.10 268.93) scale(1 1.08)" text-anchor="end">250</text>
<path d="M310.50 244.81H313.70" stroke="#000" stroke-width="1.4"/>
<text transform="translate(307.10 248.71) scale(1 1.08)" text-anchor="end">300</text>
<path d="M310.50 224.60H313.70" stroke="#000" stroke-width="1.4"/>
<text transform="translate(307.10 228.50) scale(1 1.08)" text-anchor="end">350</text>
<path d="M313.70 366.10V369.30" stroke="#000" stroke-width="1.4"/>
<text transform="translate(314.00 382.70) scale(1 1.08)" text-anchor="middle">0</text>
<path d="M353.90 366.10V369.30" stroke="#000" stroke-width="1.4"/>
<text transform="translate(354.20 382.70) scale(1 1.08)" text-anchor="middle">3</text>
<path d="M394.10 366.10V369.30" stroke="#000" stroke-width="1.4"/>
<text transform="translate(394.40 382.70) scale(1 1.08)" text-anchor="middle">6</text>
<path d="M434.30 366.10V369.30" stroke="#000" stroke-width="1.4"/>
<text transform="translate(434.60 382.70) scale(1 1.08)" text-anchor="middle">9</text>
<path d="M474.50 366.10V369.30" stroke="#000" stroke-width="1.4"/>
<text transform="translate(474.80 382.70) scale(1 1.08)" text-anchor="middle">12</text>
<path d="M514.70 366.10V369.30" stroke="#000" stroke-width="1.4"/>
<text transform="translate(515.00 382.70) scale(1 1.08)" text-anchor="middle">15</text>
<text x="414.20" y="398.60" text-anchor="middle" style="font-size:8.8px;stroke-width:0.3px">Time (min)</text>
<text transform="translate(279.20 294.35) rotate(-90)" text-anchor="middle" style="stroke-width:0.25px">Thrombin (nM)</text>
<text transform="translate(271.20 219.90) scale(0.96 1.04)" style="font-size:20px;stroke-width:0.45px">D</text>
<path d="M317.37 366.10 L321.83 366.10 L326.30 365.70 L330.77 364.08 L335.23 356.80 L339.70 343.86 L344.17 320.82 L348.63 289.69 L353.10 265.43 L357.57 248.05 L362.03 236.73 L366.50 243.60 L370.97 256.54 L375.43 265.03 L379.90 279.18 L384.37 293.33 L388.83 306.27 L393.30 311.52 L397.77 328.91 L402.23 333.76 L406.70 334.57 L411.17 339.42 L415.63 333.76 L420.10 349.93 L424.57 358.01 L429.03 351.95 L433.50 347.91 L437.97 358.42 L442.43 357.21 L446.90 364.89 L451.37 356.80 L455.83 355.99 L460.30 358.82 L464.77 360.44 L469.23 363.27 L473.70 364.08 L478.17 362.87 L482.63 356.40 L487.10 362.87 L491.57 364.48 L496.03 369.74 L500.50 369.74 L504.97 369.74 L509.43 366.91 L513.90 358.82" fill="none" stroke="#000" stroke-width="0.9"/>
<path d="M317.37 363.50L319.97 366.10L317.37 368.70L314.77 366.10Z" fill="#000" stroke="#000" stroke-width="0.9"/>
<path d="M321.83 363.50L324.43 366.10L321.83 368.70L319.23 366.10Z" fill="#000" stroke="#000" stroke-width="0.9"/>
<path d="M326.30 363.10L328.90 365.70L326.30 368.30L323.70 365.70Z" fill="#000" stroke="#000" stroke-width="0.9"/>
<path d="M330.77 361.48L333.37 364.08L330.77 366.68L328.17 364.08Z" fill="#000" stroke="#000" stroke-width="0.9"/>
<path d="M335.23 354.20L337.83 356.80L335.23 359.40L332.63 356.80Z" fill="#000" stroke="#000" stroke-width="0.9"/>
<path d="M339.70 341.26L342.30 343.86L339.70 346.46L337.10 343.86Z" fill="#000" stroke="#000" stroke-width="0.9"/>
<path d="M344.17 318.22L346.77 320.82L344.17 323.42L341.57 320.82Z" fill="#000" stroke="#000" stroke-width="0.9"/>
<path d="M348.63 287.09L351.23 289.69L348.63 292.29L346.03 289.69Z" fill="#000" stroke="#000" stroke-width="0.9"/>
<path d="M353.10 262.83L355.70 265.43L353.10 268.03L350.50 265.43Z" fill="#000" stroke="#000" stroke-width="0.9"/>
<path d="M357.57 245.45L360.17 248.05L357.57 250.65L354.97 248.05Z" fill="#000" stroke="#000" stroke-width="0.9"/>
<path d="M362.03 234.13L364.63 236.73L362.03 239.33L359.43 236.73Z" fill="#000" stroke="#000" stroke-width="0.9"/>
<path d="M366.50 241.00L369.10 243.60L366.50 246.20L363.90 243.60Z" fill="#000" stroke="#000" stroke-width="0.9"/>
<path d="M370.97 253.94L373.57 256.54L370.97 259.14L368.37 256.54Z" fill="#000" stroke="#000" stroke-width="0.9"/>
<path d="M375.43 262.43L378.03 265.03L375.43 267.63L372.83 265.03Z" fill="#000" stroke="#000" stroke-width="0.9"/>
<path d="M379.90 276.58L382.50 279.18L379.90 281.78L377.30 279.18Z" fill="#000" stroke="#000" stroke-width="0.9"/>
<path d="M384.37 290.73L386.97 293.33L384.37 295.93L381.77 293.33Z" fill="#000" stroke="#000" stroke-width="0.9"/>
<path d="M388.83 303.67L391.43 306.27L388.83 308.87L386.23 306.27Z" fill="#000" stroke="#000" stroke-width="0.9"/>
<path d="M393.30 308.92L395.90 311.52L393.30 314.12L390.70 311.52Z" fill="#000" stroke="#000" stroke-width="0.9"/>
<path d="M397.77 326.31L400.37 328.91L397.77 331.51L395.17 328.91Z" fill="#000" stroke="#000" stroke-width="0.9"/>
<path d="M402.23 331.16L404.83 333.76L402.23 336.36L399.63 333.76Z" fill="#000" stroke="#000" stroke-width="0.9"/>
<path d="M406.70 331.97L409.30 334.57L406.70 337.17L404.10 334.57Z" fill="#000" stroke="#000" stroke-width="0.9"/>
<path d="M411.17 336.82L413.77 339.42L411.17 342.02L408.57 339.42Z" fill="#000" stroke="#000" stroke-width="0.9"/>
<path d="M415.63 331.16L418.23 333.76L415.63 336.36L413.03 333.76Z" fill="#000" stroke="#000" stroke-width="0.9"/>
<path d="M420.10 347.33L422.70 349.93L420.10 352.53L417.50 349.93Z" fill="#000" stroke="#000" stroke-width="0.9"/>
<path d="M424.57 355.41L427.17 358.01L424.57 360.61L421.97 358.01Z" fill="#000" stroke="#000" stroke-width="0.9"/>
<path d="M429.03 349.35L431.63 351.95L429.03 354.55L426.43 351.95Z" fill="#000" stroke="#000" stroke-width="0.9"/>
<path d="M433.50 345.31L436.10 347.91L433.50 350.51L430.90 347.91Z" fill="#000" stroke="#000" stroke-width="0.9"/>
<path d="M437.97 355.82L440.57 358.42L437.97 361.02L435.37 358.42Z" fill="#000" stroke="#000" stroke-width="0.9"/>
<path d="M442.43 354.61L445.03 357.21L442.43 359.81L439.83 357.21Z" fill="#000" stroke="#000" stroke-width="0.9"/>
<path d="M446.90 362.29L449.50 364.89L446.90 367.49L444.30 364.89Z" fill="#000" stroke="#000" stroke-width="0.9"/>
<path d="M451.37 354.20L453.97 356.80L451.37 359.40L448.77 356.80Z" fill="#000" stroke="#000" stroke-width="0.9"/>
<path d="M455.83 353.39L458.43 355.99L455.83 358.59L453.23 355.99Z" fill="#000" stroke="#000" stroke-width="0.9"/>
<path d="M460.30 356.22L462.90 358.82L460.30 361.42L457.70 358.82Z" fill="#000" stroke="#000" stroke-width="0.9"/>
<path d="M464.77 357.84L467.37 360.44L464.77 363.04L462.17 360.44Z" fill="#000" stroke="#000" stroke-width="0.9"/>
<path d="M469.23 360.67L471.83 363.27L469.23 365.87L466.63 363.27Z" fill="#000" stroke="#000" stroke-width="0.9"/>
<path d="M473.70 361.48L476.30 364.08L473.70 366.68L471.10 364.08Z" fill="#000" stroke="#000" stroke-width="0.9"/>
<path d="M478.17 360.27L480.77 362.87L478.17 365.47L475.57 362.87Z" fill="#000" stroke="#000" stroke-width="0.9"/>
<path d="M482.63 353.80L485.23 356.40L482.63 359.00L480.03 356.40Z" fill="#000" stroke="#000" stroke-width="0.9"/>
<path d="M487.10 360.27L489.70 362.87L487.10 365.47L484.50 362.87Z" fill="#000" stroke="#000" stroke-width="0.9"/>
<path d="M491.57 361.88L494.17 364.48L491.57 367.08L488.97 364.48Z" fill="#000" stroke="#000" stroke-width="0.9"/>
<path d="M513.90 356.22L516.50 358.82L513.90 361.42L511.30 358.82Z" fill="#000" stroke="#000" stroke-width="0.9"/>
<path d="M318.87 366.10 L323.33 366.10 L327.80 365.70 L332.27 364.48 L336.73 360.44 L341.20 349.93 L345.67 333.76 L350.13 308.69 L354.60 289.69 L359.07 275.14 L363.53 268.26 L368.00 275.14 L372.47 289.29 L376.93 301.41 L381.40 306.67 L385.87 320.82 L390.33 322.84 L394.80 328.10 L399.27 341.84 L403.73 339.42 L408.20 346.29 L412.67 346.29 L417.13 349.93 L421.60 355.59 L426.07 353.16 L430.53 350.74 L435.00 355.18 L439.47 355.18 L443.93 360.04 L448.40 360.44 L452.87 357.21 L457.33 354.38 L461.80 360.44 L466.27 360.44 L470.73 360.44 L475.20 360.44 L479.67 362.06 L484.13 357.21 L488.60 359.63 L493.07 362.46 L497.53 368.93 L502.00 365.29 L506.47 364.48 L510.93 360.84" fill="none" stroke="#000" stroke-width="0.9"/>
<path d="M318.87 363.50L321.47 366.10L318.87 368.70L316.27 366.10Z" fill="#fff" stroke="#000" stroke-width="0.9"/>
<path d="M323.33 363.50L325.93 366.10L323.33 368.70L320.73 366.10Z" fill="#fff" stroke="#000" stroke-width="0.9"/>
<path d="M327.80 363.10L330.40 365.70L327.80 368.30L325.20 365.70Z" fill="#fff" stroke="#000" stroke-width="0.9"/>
<path d="M332.27 361.88L334.87 364.48L332.27 367.08L329.67 364.48Z" fill="#fff" stroke="#000" stroke-width="0.9"/>
<path d="M336.73 357.84L339.33 360.44L336.73 363.04L334.13 360.44Z" fill="#fff" stroke="#000" stroke-width="0.9"/>
<path d="M341.20 347.33L343.80 349.93L341.20 352.53L338.60 349.93Z" fill="#fff" stroke="#000" stroke-width="0.9"/>
<path d="M345.67 331.16L348.27 333.76L345.67 336.36L343.07 333.76Z" fill="#fff" stroke="#000" stroke-width="0.9"/>
<path d="M350.13 306.09L352.73 308.69L350.13 311.29L347.53 308.69Z" fill="#fff" stroke="#000" stroke-width="0.9"/>
<path d="M354.60 287.09L357.20 289.69L354.60 292.29L352.00 289.69Z" fill="#fff" stroke="#000" stroke-width="0.9"/>
<path d="M359.07 272.54L361.67 275.14L359.07 277.74L356.47 275.14Z" fill="#fff" stroke="#000" stroke-width="0.9"/>
<path d="M363.53 265.66L366.13 268.26L363.53 270.86L360.93 268.26Z" fill="#fff" stroke="#000" stroke-width="0.9"/>
<path d="M368.00 272.54L370.60 275.14L368.00 277.74L365.40 275.14Z" fill="#fff" stroke="#000" stroke-width="0.9"/>
<path d="M372.47 286.69L375.07 289.29L372.47 291.89L369.87 289.29Z" fill="#fff" stroke="#000" stroke-width="0.9"/>
<path d="M376.93 298.81L379.53 301.41L376.93 304.01L374.33 301.41Z" fill="#fff" stroke="#000" stroke-width="0.9"/>
<path d="M381.40 304.07L384.00 306.67L381.40 309.27L378.80 306.67Z" fill="#fff" stroke="#000" stroke-width="0.9"/>
<path d="M385.87 318.22L388.47 320.82L385.87 323.42L383.27 320.82Z" fill="#fff" stroke="#000" stroke-width="0.9"/>
<path d="M390.33 320.24L392.93 322.84L390.33 325.44L387.73 322.84Z" fill="#fff" stroke="#000" stroke-width="0.9"/>
<path d="M394.80 325.50L397.40 328.10L394.80 330.70L392.20 328.10Z" fill="#fff" stroke="#000" stroke-width="0.9"/>
<path d="M399.27 339.24L401.87 341.84L399.27 344.44L396.67 341.84Z" fill="#fff" stroke="#000" stroke-width="0.9"/>
<path d="M403.73 336.82L406.33 339.42L403.73 342.02L401.13 339.42Z" fill="#fff" stroke="#000" stroke-width="0.9"/>
<path d="M408.20 343.69L410.80 346.29L408.20 348.89L405.60 346.29Z" fill="#fff" stroke="#000" stroke-width="0.9"/>
<path d="M412.67 343.69L415.27 346.29L412.67 348.89L410.07 346.29Z" fill="#fff" stroke="#000" stroke-width="0.9"/>
<path d="M417.13 347.33L419.73 349.93L417.13 352.53L414.53 349.93Z" fill="#fff" stroke="#000" stroke-width="0.9"/>
<path d="M421.60 352.99L424.20 355.59L421.60 358.19L419.00 355.59Z" fill="#fff" stroke="#000" stroke-width="0.9"/>
<path d="M426.07 350.56L428.67 353.16L426.07 355.76L423.47 353.16Z" fill="#fff" stroke="#000" stroke-width="0.9"/>
<path d="M430.53 348.14L433.13 350.74L430.53 353.34L427.93 350.74Z" fill="#fff" stroke="#000" stroke-width="0.9"/>
<path d="M435.00 352.58L437.60 355.18L435.00 357.78L432.40 355.18Z" fill="#fff" stroke="#000" stroke-width="0.9"/>
<path d="M439.47 352.58L442.07 355.18L439.47 357.78L436.87 355.18Z" fill="#fff" stroke="#000" stroke-width="0.9"/>
<path d="M443.93 357.44L446.53 360.04L443.93 362.64L441.33 360.04Z" fill="#fff" stroke="#000" stroke-width="0.9"/>
<path d="M448.40 357.84L451.00 360.44L448.40 363.04L445.80 360.44Z" fill="#fff" stroke="#000" stroke-width="0.9"/>
<path d="M452.87 354.61L455.47 357.21L452.87 359.81L450.27 357.21Z" fill="#fff" stroke="#000" stroke-width="0.9"/>
<path d="M457.33 351.78L459.93 354.38L457.33 356.98L454.73 354.38Z" fill="#fff" stroke="#000" stroke-width="0.9"/>
<path d="M461.80 357.84L464.40 360.44L461.80 363.04L459.20 360.44Z" fill="#fff" stroke="#000" stroke-width="0.9"/>
<path d="M466.27 357.84L468.87 360.44L466.27 363.04L463.67 360.44Z" fill="#fff" stroke="#000" stroke-width="0.9"/>
<path d="M470.73 357.84L473.33 360.44L470.73 363.04L468.13 360.44Z" fill="#fff" stroke="#000" stroke-width="0.9"/>
<path d="M475.20 357.84L477.80 360.44L475.20 363.04L472.60 360.44Z" fill="#fff" stroke="#000" stroke-width="0.9"/>
<path d="M479.67 359.46L482.27 362.06L479.67 364.66L477.07 362.06Z" fill="#fff" stroke="#000" stroke-width="0.9"/>
<path d="M484.13 354.61L486.73 357.21L484.13 359.81L481.53 357.21Z" fill="#fff" stroke="#000" stroke-width="0.9"/>
<path d="M488.60 357.03L491.20 359.63L488.60 362.23L486.00 359.63Z" fill="#fff" stroke="#000" stroke-width="0.9"/>
<path d="M493.07 359.86L495.67 362.46L493.07 365.06L490.47 362.46Z" fill="#fff" stroke="#000" stroke-width="0.9"/>
<path d="M502.00 362.69L504.60 365.29L502.00 367.89L499.40 365.29Z" fill="#fff" stroke="#000" stroke-width="0.9"/>
<path d="M506.47 361.88L509.07 364.48L506.47 367.08L503.87 364.48Z" fill="#fff" stroke="#000" stroke-width="0.9"/>
<path d="M510.93 358.24L513.53 360.84L510.93 363.44L508.33 360.84Z" fill="#fff" stroke="#000" stroke-width="0.9"/>
</svg>
</body></html>
